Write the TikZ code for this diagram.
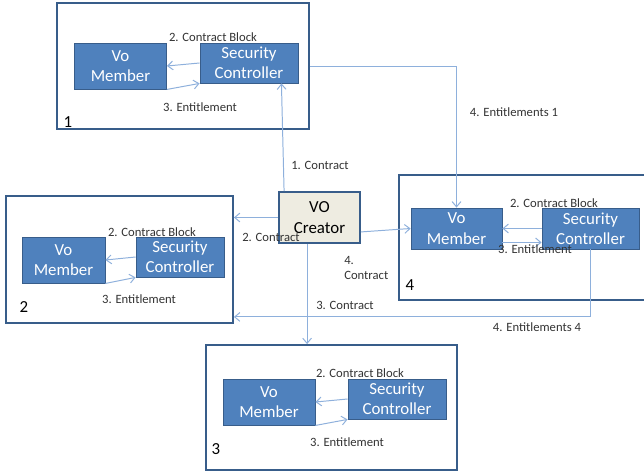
\documentclass[tikz,border=0pt]{standalone}
\usepackage{fontspec}
\setmainfont{Carlito}
\usetikzlibrary{arrows.meta}
\usetikzlibrary{calc}

\definecolor{boxblue}{HTML}{4F81BD}
\definecolor{edgeblue}{HTML}{385D8A}
\definecolor{linkblue}{HTML}{8EB0DC}
\definecolor{paper}{HTML}{EEECE1}
\definecolor{labelgrey}{HTML}{333333}

\begin{document}
\begin{tikzpicture}[x=0.025cm, y=-0.025cm,
    frame/.style={draw=edgeblue, line width=1.3pt, fill=white, minimum width=6.3cm, minimum height=3.15cm, inner sep=0pt},
    member/.style={draw=edgeblue, line width=0.6pt, fill=boxblue, text=white, align=center, font=\fontsize{12}{14.5}\selectfont, minimum width=2.3cm, minimum height=1.15cm, inner sep=0pt},
    ctrl/.style={member, minimum width=2.45cm, minimum height=1.0cm},
    creator/.style={draw=edgeblue, line width=1.3pt, fill=paper, align=center, font=\fontsize{12}{14.5}\selectfont, minimum width=2.025cm, minimum height=1.275cm, inner sep=0pt},
    link/.style={draw=linkblue, line width=0.7pt, -{Straight Barb[length=1.3mm, width=2.2mm]}},
    lbl/.style={text=labelgrey, font=\fontsize{9}{10.5}\selectfont, inner sep=0pt},
    num/.style={font=\fontsize{12}{14}\selectfont, inner sep=0pt}]
    \useasboundingbox (0,0) rectangle (644,473);
    \clip (0,0) rectangle (644,473);

    % group 1
    \node[frame] (f1) at (183,66) {};
    \node[member] (vm1) at (120.5,66) {Vo\\Member};
    \node[ctrl] (sc1) at (249,63) {Security\\Controller};
    \node[lbl] (cb1) at (213,37) {2. Contract Block};
    \node[lbl] (en1) at (200,107) {3. Entitlement};
    \node[num] (n1) at (68,122) {1};
    \draw[link] (sc1.west) -- (vm1.east);
    \draw[link] (vm1.south east) -- (sc1.south west);

    % group 2
    \node[frame, minimum width=5.675cm, minimum height=3.175cm] (f2) at (119.5,259.5) {};
    \node[member, minimum width=2.075cm] (vm2) at (63.5,260) {Vo\\Member};
    \node[ctrl, minimum width=2.2cm] (sc2) at (180,257) {Security\\Controller};
    \node[lbl] (cb2) at (152,232) {2. Contract Block};
    \node[lbl] (en2) at (139,299) {3. Entitlement};
    \node[num] (n2) at (24,307) {2};
    \draw[link] (sc2.west) -- (vm2.east);
    \draw[link] (vm2.south east) -- (sc2.south west);

    % group 3
    \node[frame, minimum width=6.275cm, minimum height=3.125cm] (f3) at (331.5,407.5) {};
    \node[member] (vm3) at (269,402) {Vo\\Member};
    \node[ctrl] (sc3) at (397,399) {Security\\Controller};
    \node[lbl] (cb3) at (360,373) {2. Contract Block};
    \node[lbl] (en3) at (347,442) {3. Entitlement};
    \node[num] (n3) at (216,449) {3};
    \draw[link] (sc3.west) -- (vm3.east);
    \draw[link] (vm3.south east) -- (sc3.south west);

    % group 4
    \node[frame, minimum width=6.525cm, minimum height=3.125cm] (f4) at (529.5,237.5) {};
    \node[member, minimum width=2.275cm, minimum height=1.025cm] (vm4) at (456.5,228.5) {Vo\\Member};
    \node[ctrl, minimum width=2.425cm, minimum height=1.025cm] (sc4) at (590.5,228.5) {Security\\Controller};
    \node[lbl] (cb4) at (554,203) {2. Contract Block};
    \node[num] (n4) at (410,285) {4};
    \draw[link] (sc4.west) -- (vm4.east);
    \draw[link] ($(vm4.south east)+(0,-7)$) -- ($(sc4.south west)+(0,-7)$);
    \node[lbl] (en4) at (535,249) {3. Entitlement};

    % VO creator
    \node[creator] (vo) at (319.5,217.5) {VO\\Creator};
    \coordinate (c3) at ($(vo.south west)+(29,0)$);

    \draw[link] ($(vo.north west)+(6,0)$) -- ($(sc1.south east)+(-17,0)$);
    \node[lbl] (lc1) at (320,165) {1. Contract};
    \draw[link] (vo.west) -- (vo.west -| f2.east);
    \node[lbl] (lc2) at (271,237) {2. Contract};
    \draw[link] (c3) -- (c3 |- f3.north);
    \node[lbl] (lc3) at (345,305) {3. Contract};
    \draw[link] ($(vo.south east)+(0,-12)$) -- (vm4.west);
    \node[lbl, align=left, anchor=west] (lc4) at (344,268) {4.\\Contract};

    \draw[link] (f1.east) -| (vm4.north);
    \node[lbl] (le1) at (514,112) {4. Entitlements 1};
    \draw[link] (sc4.south) |- ($(f2.south east)+(0,-7)$);
    \node[lbl] (le4) at (537,327) {4. Entitlements 4};
\end{tikzpicture}
\end{document}
